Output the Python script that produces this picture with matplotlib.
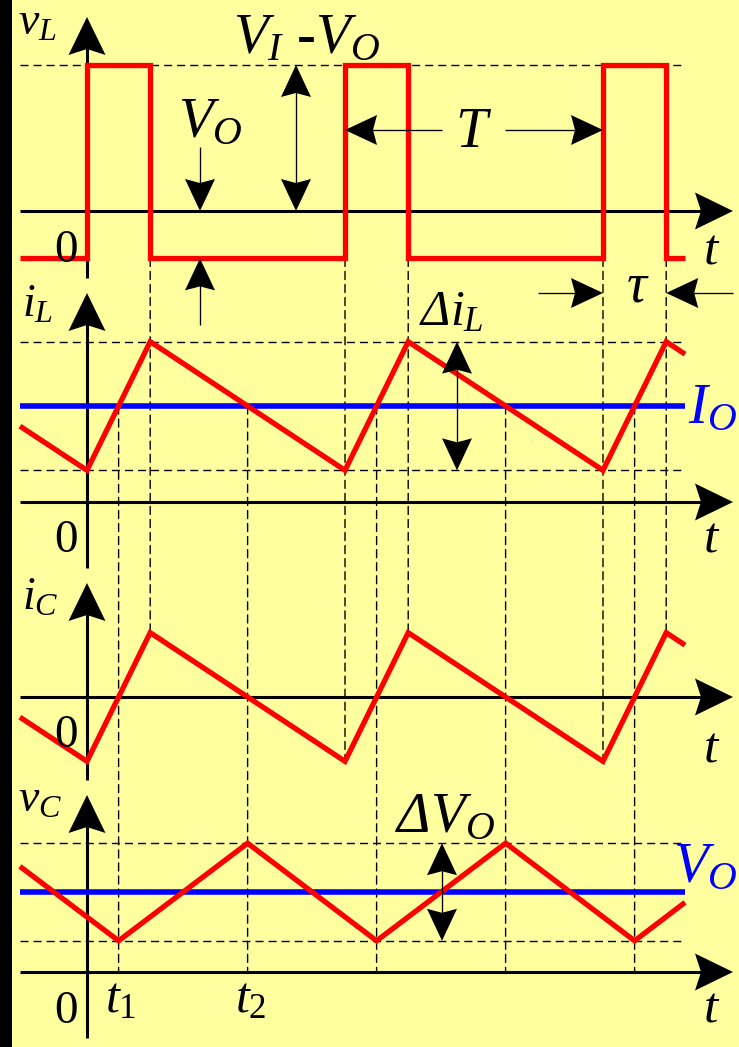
import matplotlib
matplotlib.use("Agg")
import matplotlib.pyplot as plt
from matplotlib.patches import Polygon, Rectangle, ConnectionPatch
import numpy as np

plt.rcParams["font.family"] = ["Liberation Serif", "DejaVu Serif"]
plt.rcParams["mathtext.fontset"] = "custom"
plt.rcParams["mathtext.rm"] = "Liberation Serif"
plt.rcParams["mathtext.it"] = "Liberation Serif:italic"
plt.rcParams["mathtext.cal"] = "Liberation Serif:italic"

# ---------------- waveform data (time in switching periods) ----------------
t_start, t_stop = -0.26, 2.318
t_rise = [1.0, 2.0]                      # switch turns on
t_fall = [0.245, 1.245, 2.245]           # switch turns off
t_cross = [0.1225, 0.6225, 1.1225, 1.6225, 2.1225]   # i_L = I_O instants

# inductor voltage: V_I - V_O while on, -V_O while off
vl_high, vl_low = 0.755, -0.245
vl_t = [-0.26, 0.0, 0.0, 0.245, 0.245, 1.0, 1.0, 1.245, 1.245, 2.0, 2.0, 2.245, 2.245, 2.318]
vl_v = [-0.245, -0.245, 0.755, 0.755, -0.245, -0.245, 0.755, 0.755,
        -0.245, -0.245, 0.755, 0.755, -0.245, -0.245]

# inductor current and its average I_O
il_t = [-0.26, 0.0, 0.245, 1.0, 1.245, 2.0, 2.245, 2.318]
il_v = [0.79, 0.33, 1.67, 0.33, 1.67, 0.33, 1.67, 1.54]
il_max, il_min = 1.67, 0.33
io_level = 1.0

# capacitor current
ic_t = [-0.26, 0.0, 0.245, 1.0, 1.245, 2.0, 2.245, 2.318]
ic_v = [-0.21, -0.67, 0.67, -0.67, 0.67, -0.67, 0.67, 0.54]
ic_max, ic_min = 0.67, -0.67

# capacitor voltage and its average V_O
vc_t = [-0.26, 0.1225, 0.6225, 1.1225, 1.6225, 2.1225, 2.318]
vc_v = [1.32, 0.39, 1.61, 0.39, 1.61, 0.39, 0.87]
vc_max, vc_min = 1.61, 0.39
vo_level = 1.0

# ---------------- page layout ----------------
W, H = 739, 1047
BG = "#FFFFA0"
RED = "#FF0000"
BLUE = "#0000FF"
X0, PPT = 87.0, 258.0          # time origin (px) and pixels per period
DASH = (0, (5.8, 3.6))

fig = plt.figure(figsize=(W / 100, H / 100), dpi=100)
fig.patch.set_facecolor(BG)
fig.add_artist(Rectangle((0, 0), 12 / W, 1, transform=fig.transFigure,
                         facecolor="black", edgecolor="none", zorder=-2))


def make_panel(y0, scale):
    ax = fig.add_axes([0, 0, 1, 1])
    ax.set_xlim(-X0 / PPT, (W - X0) / PPT)
    ax.set_ylim((y0 - H) / scale, y0 / scale)
    ax.axis("off")
    return ax


ax_vl = make_panel(211, 193.4)
ax_il = make_panel(502, 96.0)
ax_ic = make_panel(697, 96.0)
ax_vc = make_panel(972, 80.0)

ov = fig.add_axes([0, 0, 1, 1])
ov.set_xlim(0, W)
ov.set_ylim(H, 0)
ov.axis("off")


def to_px(ax, t, v):
    return ov.transData.inverted().transform(ax.transData.transform((t, v)))


def from_px(ax, x, y):
    return ax.transData.inverted().transform(ov.transData.transform((x, y)))


def head(tip, direction, length=32, width=30, notch=4, zorder=6):
    tx, ty = tip
    dx, dy = direction
    n = np.hypot(dx, dy)
    dx, dy = dx / n, dy / n
    px, py = -dy, dx
    pts = [(tx, ty),
           (tx - length * dx + width / 2 * px, ty - length * dy + width / 2 * py),
           (tx - (length - notch) * dx, ty - (length - notch) * dy),
           (tx - length * dx - width / 2 * px, ty - length * dy - width / 2 * py)]
    ov.add_patch(Polygon(pts, closed=True, facecolor="black",
                         edgecolor="none", zorder=zorder))


def thin(x0, y0, x1, y1):
    ov.plot([x0, x1], [y0, y1], color="black", lw=0.95, zorder=5,
            solid_capstyle="butt")


# ---------------- guide lines ----------------
def vguide(t, ax_a, va, ax_b, vb):
    cp = ConnectionPatch(xyA=(t, va), coordsA=ax_a.transData,
                         xyB=(t, vb), coordsB=ax_b.transData,
                         color="black", lw=1.0, linestyle=DASH, zorder=-1)
    fig.add_artist(cp)


for t in t_fall:
    vguide(t, ax_vl, vl_low, ax_ic, ic_max)
for t in t_rise:
    vguide(t, ax_vl, vl_low, ax_ic, ic_min)
for t in t_cross:
    vguide(t, ax_il, io_level, ax_vc, 0.0)

for ax, lv in [(ax_vl, vl_high), (ax_il, il_max), (ax_il, il_min),
               (ax_vc, vc_max), (ax_vc, vc_min)]:
    ax.plot([t_start, t_stop], [lv, lv], color="black", lw=1.0,
            linestyle=DASH, zorder=1)

# ---------------- coordinate axes ----------------
vaxis_px = {ax_vl: (17, 278), ax_il: (293, 568), ax_ic: (583, 780), ax_vc: (795, 1038)}
for ax, (top, bot) in vaxis_px.items():
    x_tip_t = from_px(ax, 733 - 20, 0)[0]
    ax.plot([t_start, x_tip_t], [0, 0], color="black", lw=2.2, zorder=2,
            solid_capstyle="butt")
    v_top = from_px(ax, 0, top + 20)[1]
    v_bot = from_px(ax, 0, bot)[1]
    ax.plot([0, 0], [v_bot, v_top], color="black", lw=2.2, zorder=2,
            solid_capstyle="butt")
    y_axis = to_px(ax, 0, 0)[1]
    head((733, y_axis), (1, 0), length=38, width=37, notch=6)
    head((to_px(ax, 0, 0)[0], top), (0, -1), length=38, width=37, notch=6)

# ---------------- waveforms ----------------
ax_il.plot([t_start, t_stop], [io_level, io_level], color=BLUE, lw=4.0, zorder=3,
           solid_capstyle="butt")
ax_vc.plot([t_start, t_stop], [vo_level, vo_level], color=BLUE, lw=4.0, zorder=3,
           solid_capstyle="butt")
for ax, tt, vv in [(ax_vl, vl_t, vl_v), (ax_il, il_t, il_v),
                   (ax_ic, ic_t, ic_v), (ax_vc, vc_t, vc_v)]:
    ax.plot(tt, vv, color=RED, lw=3.8, zorder=4, solid_joinstyle="miter",
            solid_capstyle="butt")

# ---------------- dimension arrows ----------------
def double_arrow(x, y_a, y_b):
    thin(x, y_a + 20, x, y_b - 20)
    head((x, y_a), (0, -1))
    head((x, y_b), (0, 1))


double_arrow(296, to_px(ax_vl, 0, vl_high)[1], to_px(ax_vl, 0, 0)[1])
double_arrow(457, to_px(ax_il, 0, il_max)[1], to_px(ax_il, 0, il_min)[1])
double_arrow(442, to_px(ax_vc, 0, vc_max)[1], to_px(ax_vc, 0, vc_min)[1])

# V_O pointers
y0_vl = to_px(ax_vl, 0, 0)[1]
y_low = to_px(ax_vl, 0, vl_low)[1]
thin(200, 147, 200, y0_vl - 20)
head((200, y0_vl), (0, 1))
thin(200, 325, 200, y_low + 20)
head((200, y_low), (0, -1))

# period T
x_p1 = to_px(ax_vl, 1.0, 0)[0]
x_p2 = to_px(ax_vl, 2.0, 0)[0]
thin(x_p1 + 20, 130, 442, 130)
head((x_p1, 130), (-1, 0))
thin(505, 130, x_p2 - 20, 130)
head((x_p2, 130), (1, 0))

# on-time tau
x_off = to_px(ax_vl, 2.245, 0)[0]
thin(538, 293, x_p2 - 20, 293)
head((x_p2, 293), (1, 0))
thin(733, 293, x_off + 20, 293)
head((x_off, 293), (-1, 0))

# ---------------- text ----------------
def label(x, y, s, size, color="black", ha="left", **kw):
    ov.text(x, y, s, fontsize=size, color=color, ha=ha, va="baseline",
            zorder=7, **kw)


label(18, 35, r"$v_L$", 33)
label(22, 317, r"$i_L$", 33)
label(22, 610, r"$i_C$", 33)
label(18, 812, r"$v_C$", 33)

for yb in (262, 552, 747, 1023):
    label(66, yb, "0", 34, ha="center")
for yb in (263, 552, 762, 1022):
    label(712, yb, r"$t$", 37, ha="center")

label(105, 1012, r"$t_1$", 36)
label(235, 1012, r"$t_2$", 36)

label(233, 53, r"$V_I$ -$V_O$", 41, fontweight="bold")
label(178, 137, r"$V_O$", 41)
label(474, 147, r"$T$", 41, ha="center")
label(638, 301, r"$\tau$", 40, ha="center")
label(419, 325, r"$\mathcal{\Delta}i_L$", 36)
label(688, 423, r"$I_O$", 41, color=BLUE)
label(395, 832, r"$\mathcal{\Delta}V_O$", 41)
label(673, 882, r"$V_O$", 41, color=BLUE)

fig.savefig("out.png", dpi=100, facecolor=BG)
